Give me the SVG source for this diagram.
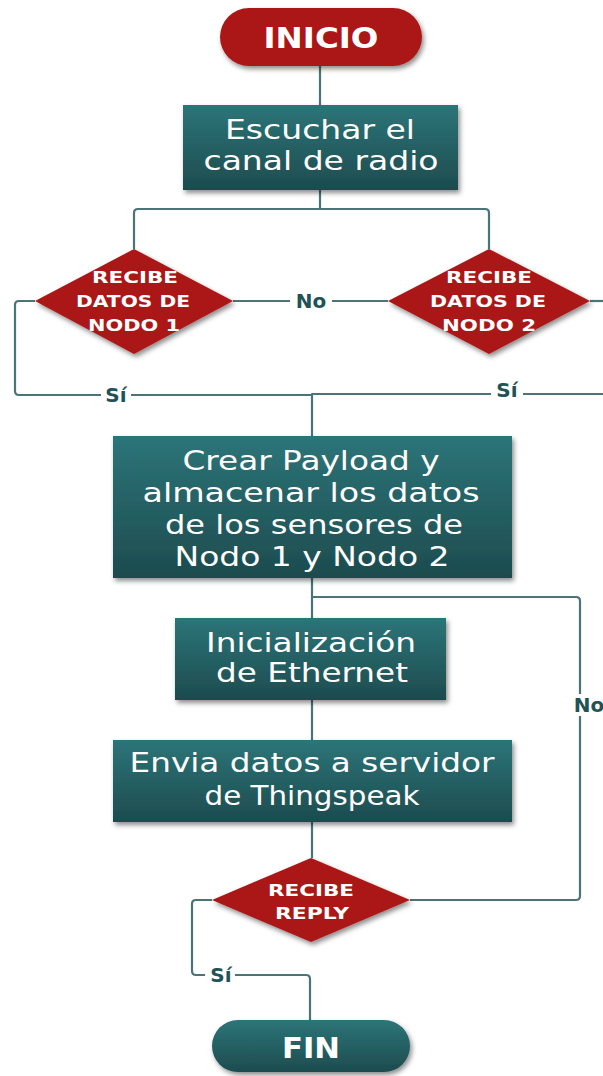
<svg xmlns="http://www.w3.org/2000/svg" width="603" height="1076" viewBox="0 0 603 1076">
<defs>
<linearGradient id="teal" x1="0" y1="0" x2="0" y2="1">
<stop offset="0" stop-color="#2c7579"/>
<stop offset="1" stop-color="#1d4b4e"/>
</linearGradient>
<filter id="sh" x="-10%" y="-10%" width="125%" height="130%">
<feDropShadow dx="2" dy="3" stdDeviation="2.5" flood-color="#000" flood-opacity="0.45"/>
</filter>
<style>
.con{fill:none;stroke:#4a7478;stroke-width:2.2;stroke-linejoin:round}
.box{fill:url(#teal);filter:url(#sh)}
.red{fill:#ab1717;filter:url(#sh)}
.bt{font-family:"DejaVu Sans","Liberation Sans",sans-serif;font-size:27px;fill:#fff;text-anchor:middle}
.dt{font-family:"DejaVu Sans","Liberation Sans",sans-serif;font-size:16px;font-weight:bold;fill:#fff;text-anchor:middle}
.tt{font-family:"DejaVu Sans","Liberation Sans",sans-serif;font-size:29px;font-weight:bold;fill:#fff;text-anchor:middle}
.lb{font-family:"DejaVu Sans","Liberation Sans",sans-serif;font-size:20px;font-weight:bold;fill:#1f5357;text-anchor:middle}
.lbg{fill:#fff}
</style>
</defs>
<rect width="603" height="1076" fill="#fff"/>
<g id="connectors">
<path class="con" d="M320 66 V105"/>
<path class="con" d="M320 190 V209 M134 249 V213 Q134 209 138 209 H485 Q489 209 489 213 V249"/>
<path class="con" d="M233 301 H388"/>
<path class="con" d="M590 301 H603"/>
<path class="con" d="M35 301 H19 Q15 301 15 305 V391 Q15 395 19 395 H312"/>
<path class="con" d="M603 394 H312 V436"/>
<path class="con" d="M312 578 V618 M312 700 V740 M312 822 V858"/>
<path class="con" d="M312 597 H576 Q580 597 580 601 V896 Q580 900 576 900 H410"/>
<path class="con" d="M212 900 H196 Q192 900 192 904 V971 Q192 975 196 975 H306 Q310 975 310 979 V1020"/>
<rect class="lbg" x="290" y="290" width="42" height="22"/>
<text class="lb" x="311" y="308">No</text>
<rect class="lbg" x="101" y="384" width="30" height="22"/>
<text class="lb" x="116" y="402">Sí</text>
<rect class="lbg" x="491" y="380" width="32" height="22"/>
<text class="lb" x="507" y="397">Sí</text>
<rect class="lbg" x="566" y="694" width="37" height="22"/>
<text class="lb" x="589" y="712">No</text>
<rect class="lbg" x="205" y="964" width="30" height="22"/>
<text class="lb" x="221" y="982">Sí</text>
</g>
<g id="inicio">
<rect class="red" x="220" y="8" width="202" height="58" rx="29"/>
<text class="tt" x="321" y="48" textLength="115" lengthAdjust="spacingAndGlyphs">INICIO</text>
</g>
<g id="escuchar">
<rect class="box" x="183" y="105" width="275" height="85"/>
<text class="bt" x="320" y="139" textLength="190" lengthAdjust="spacingAndGlyphs">Escuchar el</text>
<text class="bt" x="321" y="170" textLength="235" lengthAdjust="spacingAndGlyphs">canal de radio</text>
</g>
<g id="nodo1">
<polygon class="red" points="134,249 233,301 134,354 35,301"/>
<text class="dt" x="135" y="283" textLength="86" lengthAdjust="spacingAndGlyphs">RECIBE</text>
<text class="dt" x="133" y="307" textLength="114" lengthAdjust="spacingAndGlyphs">DATOS DE</text>
<text class="dt" x="134" y="331" textLength="92" lengthAdjust="spacingAndGlyphs">NODO 1</text>
</g>
<g id="nodo2">
<polygon class="red" points="489,249 590,301 489,354 388,301"/>
<text class="dt" x="489" y="283" textLength="86" lengthAdjust="spacingAndGlyphs">RECIBE</text>
<text class="dt" x="488" y="307" textLength="116" lengthAdjust="spacingAndGlyphs">DATOS DE</text>
<text class="dt" x="489" y="331" textLength="94" lengthAdjust="spacingAndGlyphs">NODO 2</text>
</g>
<g id="payload">
<rect class="box" x="113" y="436" width="399" height="142"/>
<text class="bt" x="311" y="470" textLength="257" lengthAdjust="spacingAndGlyphs">Crear Payload y</text>
<text class="bt" x="311" y="502" textLength="337" lengthAdjust="spacingAndGlyphs">almacenar los datos</text>
<text class="bt" x="314" y="534" textLength="298" lengthAdjust="spacingAndGlyphs">de los sensores de</text>
<text class="bt" x="312" y="566" textLength="275" lengthAdjust="spacingAndGlyphs">Nodo 1 y Nodo 2</text>
</g>
<g id="ethernet">
<rect class="box" x="175" y="618" width="271" height="82"/>
<text class="bt" x="311" y="652" textLength="210" lengthAdjust="spacingAndGlyphs">Inicialización</text>
<text class="bt" x="312" y="682" textLength="192" lengthAdjust="spacingAndGlyphs">de Ethernet</text>
</g>
<g id="envia">
<rect class="box" x="113" y="740" width="399" height="82"/>
<text class="bt" x="312" y="772" textLength="365" lengthAdjust="spacingAndGlyphs">Envia datos a servidor</text>
<text class="bt" x="312" y="805" textLength="215" lengthAdjust="spacingAndGlyphs">de Thingspeak</text>
</g>
<g id="reply">
<polygon class="red" points="311,858 410,900 311,942 212,900"/>
<text class="dt" x="311" y="896" textLength="86" lengthAdjust="spacingAndGlyphs">RECIBE</text>
<text class="dt" x="312" y="919" textLength="74" lengthAdjust="spacingAndGlyphs">REPLY</text>
</g>
<g id="fin">
<rect class="box" x="212" y="1020" width="198" height="52" rx="26"/>
<text class="tt" x="311" y="1058" textLength="58" lengthAdjust="spacingAndGlyphs">FIN</text>
</g>
</svg>
